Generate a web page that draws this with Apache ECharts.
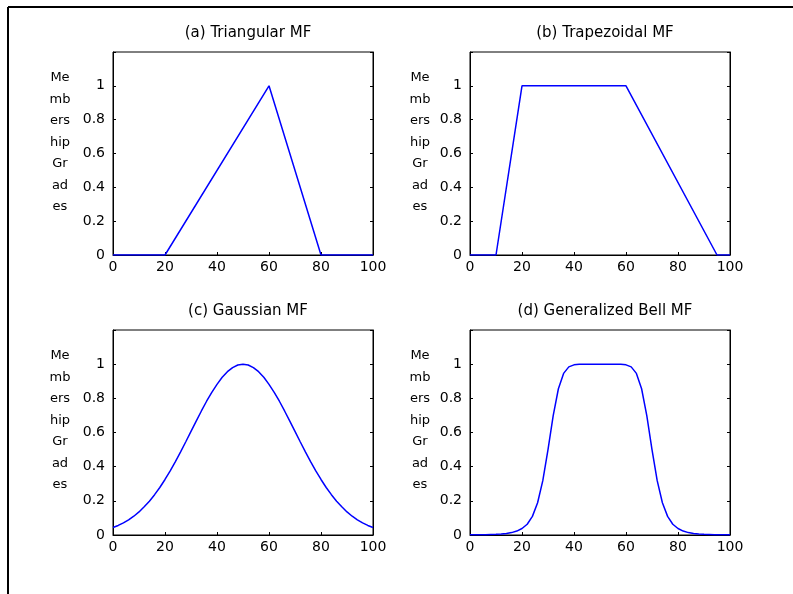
<!DOCTYPE html>
<html>
<head>
<meta charset="utf-8">
<script src="https://cdn.jsdelivr.net/npm/echarts@6/dist/echarts.min.js"></script>
<style>
html,body{margin:0;padding:0;background:#fff;}
#c{width:793px;height:594px;}
</style>
</head>
<body>
<div id="c"></div>
<script>
var titles = ['(a) Triangular MF', '(b) Trapezoidal MF', '(c) Gaussian MF', '(d) Generalized Bell MF'];
var yLabelLines = ['Me', 'mb', 'ers', 'hip', 'Gr', 'ad', 'es'];
var xTicks = [0, 20, 40, 60, 80, 100];
var yTicks = [0, 0.2, 0.4, 0.6, 0.8, 1];

var triX = [0, 20, 60, 80, 100];
var triY = [0, 0, 1, 0, 0];

var trapX = [0, 10, 20, 60, 95, 100];
var trapY = [0, 0, 1, 1, 0, 0];

var curveX = [0,2,4,6,8,10,12,14,16,18,20,22,24,26,28,30,32,34,36,38,40,42,44,46,48,50,
  52,54,56,58,60,62,64,66,68,70,72,74,76,78,80,82,84,86,88,90,92,94,96,98,100];

var gaussY = [0.044,0.056,0.071,0.089,0.110,0.135,0.165,0.198,0.236,0.278,0.325,0.375,0.430,0.487,0.546,0.607,0.667,0.726,0.783,0.835,0.882,0.923,0.956,0.980,0.995,1.000,
  0.995,0.980,0.956,0.923,0.882,0.835,0.783,0.726,0.667,0.607,0.546,0.487,0.430,0.375,0.325,0.278,0.236,0.198,0.165,0.135,0.110,0.089,0.071,0.056,0.044];

var bellY = [0.001,0.001,0.001,0.002,0.003,0.004,0.006,0.009,0.014,0.023,0.038,0.063,0.109,0.189,0.318,0.500,0.699,0.856,0.946,0.984,0.996,0.999,1.000,1.000,1.000,1.000,
  1.000,1.000,1.000,0.999,0.996,0.984,0.946,0.856,0.699,0.500,0.318,0.189,0.109,0.063,0.038,0.023,0.014,0.009,0.006,0.004,0.003,0.002,0.001,0.001,0.001];

var seriesX = [triX, trapX, curveX, curveX];
var seriesY = [triY, trapY, gaussY, bellY];

var FONT = 'DejaVu Sans';
var grids = [
  {left: 113, top: 52, width: 260, height: 203},
  {left: 470, top: 52, width: 260, height: 203},
  {left: 113, top: 330, width: 260, height: 205},
  {left: 470, top: 330, width: 260, height: 205}
];
var yLabelCenters = [60, 420, 60, 420];

function pairs(xs, ys) {
  var out = [];
  for (var i = 0; i < xs.length; i++) out.push([xs[i], ys[i]]);
  return out;
}

var option = {
  animation: false,
  backgroundColor: '#fff',
  title: [],
  grid: [],
  xAxis: [],
  yAxis: [],
  series: [],
  graphic: []
};

// outer frame (top and left edges)
option.graphic.push({type: 'line', shape: {x1: 8, y1: 7, x2: 793, y2: 7}, style: {stroke: '#000', lineWidth: 2}});
option.graphic.push({type: 'line', shape: {x1: 8, y1: 7, x2: 8, y2: 594}, style: {stroke: '#000', lineWidth: 2}});

grids.forEach(function (g, i) {
  option.grid.push({left: g.left, top: g.top, width: g.width, height: g.height,
    show: true, borderColor: '#000', borderWidth: 1, backgroundColor: '#fff'});
  option.title.push({
    text: titles[i], left: g.left + g.width / 2, top: g.top - 31, textAlign: 'center',
    textStyle: {fontFamily: FONT, fontSize: 15, fontWeight: 'normal', color: '#000'}
  });
  option.xAxis.push({
    type: 'value', gridIndex: i, min: xTicks[0], max: xTicks[xTicks.length - 1], interval: 20,
    axisLine: {show: true, onZero: false, lineStyle: {color: '#000', width: 1}},
    axisTick: {show: true, inside: true, length: 3, lineStyle: {color: '#000'}},
    axisLabel: {fontFamily: FONT, fontSize: 14, color: '#000', margin: 5},
    splitLine: {show: false}
  });
  option.yAxis.push({
    type: 'value', gridIndex: i, min: 0, max: 1.2, interval: 0.2,
    axisLine: {show: true, onZero: false, lineStyle: {color: '#000', width: 1}},
    axisTick: {show: true, inside: true, length: 3, lineStyle: {color: '#000'}},
    axisLabel: {fontFamily: FONT, fontSize: 14, color: '#000', margin: 8,
      formatter: function (v) {
        for (var k = 0; k < yTicks.length; k++) {
          if (Math.abs(v - yTicks[k]) < 1e-6) return String(yTicks[k]);
        }
        return '';
      }},
    splitLine: {show: false}
  });
  option.yAxis.push({
    type: 'value', gridIndex: i, position: 'right', min: 0, max: 1.2, interval: 0.2,
    axisLine: {show: true, onZero: false, lineStyle: {color: '#000', width: 1}},
    axisTick: {show: true, inside: true, length: 3, lineStyle: {color: '#000'}},
    axisLabel: {show: false},
    splitLine: {show: false}
  });
  option.series.push({
    type: 'line', xAxisIndex: i, yAxisIndex: i * 2, data: pairs(seriesX[i], seriesY[i]),
    showSymbol: false, symbol: 'none', lineStyle: {color: '#0000ff', width: 1.5}, z: 3
  });
  option.graphic.push({
    type: 'text', x: yLabelCenters[i], y: g.top + 15,
    style: {text: yLabelLines.join('\n'), fontFamily: FONT, fontSize: 13, fill: '#000',
      lineHeight: 21.5, textAlign: 'center'}
  });
});

var chart = echarts.init(document.getElementById('c'), null, {renderer: 'canvas'});
chart.setOption(option);
</script>
</body>
</html>
